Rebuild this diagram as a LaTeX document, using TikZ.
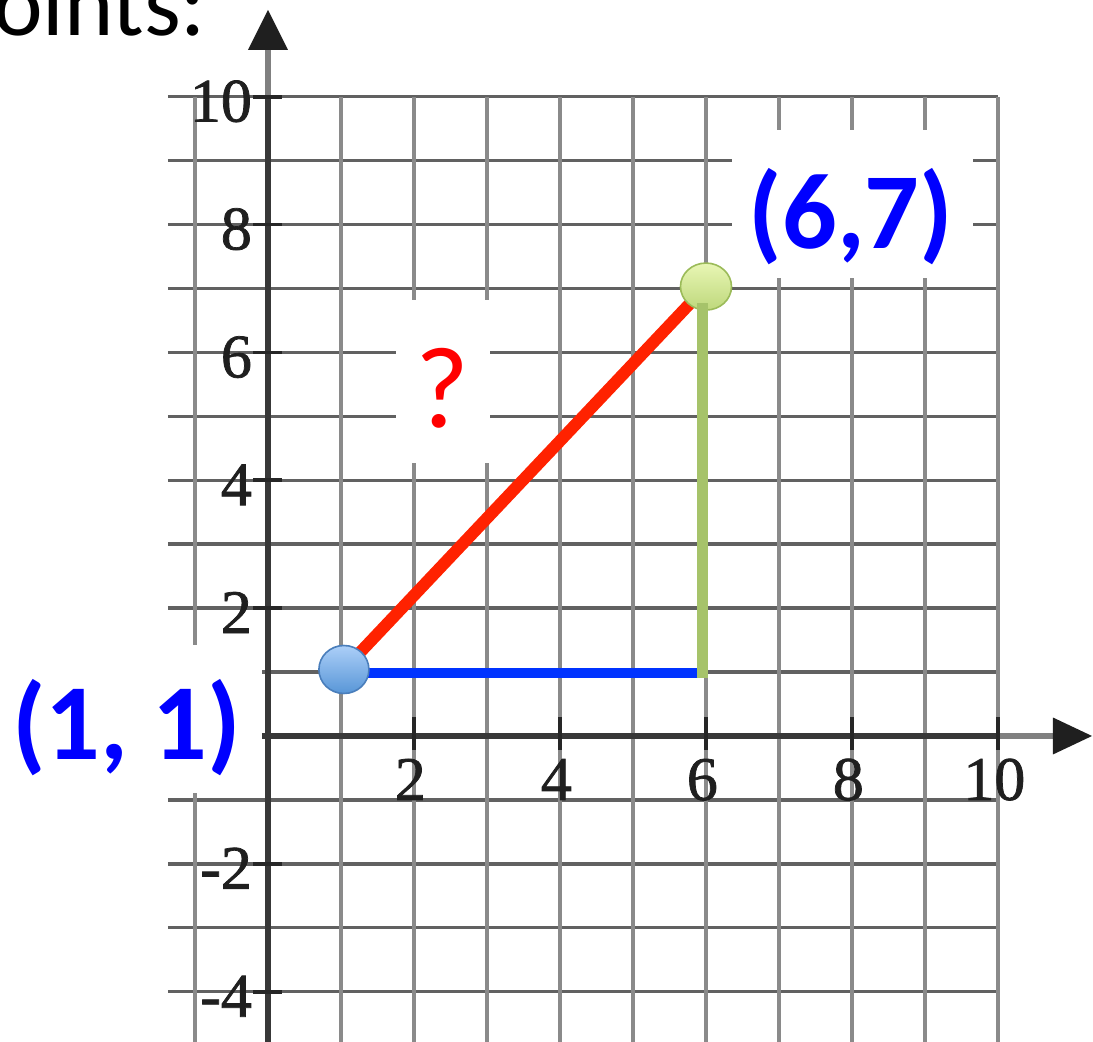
\documentclass[tikz,border=0pt]{standalone}
\usepackage{fontspec}
\setmainfont{Liberation Serif}
\newfontfamily\calib{Carlito}
\newfontfamily\tickfont[FakeBold=1.2]{Liberation Serif}
\usetikzlibrary{shapes.geometric}
\definecolor{redline}{RGB}{255,34,0}
\definecolor{blueline}{RGB}{0,51,255}
\definecolor{greenline}{RGB}{166,195,106}
\definecolor{labelblue}{RGB}{0,0,255}
\definecolor{qred}{RGB}{255,0,0}
\definecolor{bluetop}{RGB}{172,207,248}
\definecolor{bluebot}{RGB}{88,150,215}
\definecolor{blueedge}{RGB}{74,126,187}
\definecolor{greentop}{RGB}{232,246,180}
\definecolor{greenbot}{RGB}{190,216,124}
\definecolor{greenedge}{RGB}{155,187,89}
\begin{document}
\begin{tikzpicture}[x=36.5pt,y=31.965pt,
  hgrid/.style={line width=1.7pt, draw=black!62},
  vgrid/.style={line width=2.4pt, draw=black!46},
  axislight/.style={line width=2.8pt, draw=black!50},
  axisdark/.style={line width=3.2pt, draw=black!78},
  tickmark/.style={line width=1.9pt, draw=black!85},
  arrowfill/.style={fill=black!88},
  ticklabel/.style={inner sep=0pt, font=\tickfont\fontsize{31}{31}\selectfont, text=black!88},
  ptlabel/.style={inner sep=0pt, font=\calib\bfseries\fontsize{54}{54}\selectfont, text=labelblue},
  qlabel/.style={inner sep=0pt, font=\calib\fontsize{58}{58}\selectfont, text=qred},
  toptext/.style={inner sep=0pt, font=\calib\fontsize{47}{47}\selectfont, text=black},
  whitebox/.style={fill=white},
  redseg/.style={line width=6pt, draw=redline},
  blueseg/.style={line width=5pt, draw=blueline},
  greenseg/.style={line width=5.5pt, draw=greenline},
  bluedot/.style={ellipse, inner sep=0pt, minimum width=25pt, minimum height=24pt,
     top color=bluetop, bottom color=bluebot, draw=blueedge, line width=0.8pt},
  greendot/.style={ellipse, inner sep=0pt, minimum width=25.5pt, minimum height=23.5pt,
     top color=greentop, bottom color=greenbot, draw=greenedge, line width=0.8pt}
]
\useasboundingbox (-3.6712,-4.7865) rectangle (11.3014,11.5126);
% grid
\foreach \y in {-4,-3,-2,-1,1,2,3,4,5,6,7,8,9,10}
  \draw[hgrid] (-1.37,\y) -- (10,\y);
\foreach \x in {-1,1,2,3,4,5,6,7,8,9,10}
  \draw[vgrid] (\x,-4.8) -- (\x,10);
% axes
\draw[axislight] (0,-4.8) -- (0,10.75);
\draw[axisdark] (0,-4.8) -- (0,10);
\draw[axislight] (-1.37,0) -- (10.76,0);
\draw[axisdark] (-1.37,0) -- (10,0);
\fill[arrowfill] (0,11.356) -- (0.274,10.731) -- (-0.274,10.731) -- cycle;
\fill[arrowfill] (11.288,0) -- (10.753,0.289) -- (10.753,-0.289) -- cycle;
% ticks
\foreach \y in {-4,-2,2,4,6,8,10}
  \draw[tickmark] (-0.205,\y) -- (0.192,\y);
\foreach \x in {2,4,6,8,10}
  \draw[tickmark] (\x,0.297) -- (\x,-0.219);
% tick labels
\foreach \y in {-4,-2,2,4,6,8,10}
  \node[ticklabel, anchor=base east] (yl\y) at (-0.215,{\y-0.39}) {\y};
\foreach \x in {2,4,6,8,10}
  \node[ticklabel, anchor=base] (xl\x) at ({\x-0.05},-1.0) {\x};
% white label boxes
\fill[whitebox] (-3.68,1.423) rectangle (-0.082,-0.892);
\fill[whitebox] (6.356,9.479) rectangle (9.658,7.164);
\fill[whitebox] (1.753,6.820) rectangle (3.041,4.270);
% labels
\node[ptlabel, anchor=base] (lA) at (-1.938,-0.375) {(1, 1)};
\node[ptlabel, anchor=base] (lB) at (7.986,7.633) {(6,7)};
\node[qlabel, anchor=base] (q) at (2.390,4.818) {?};
\node[toptext, anchor=base east] (pts) at (-0.84,10.950) {points:};
% triangle
\coordinate (pA) at (1.04,1.04);
\coordinate (pB) at (6,7.03);
\coordinate (C) at (5.95,0.985);
\draw[redseg] (pA) -- (pB);
\draw[blueseg] (pA |- C) -- (C);
\node[bluedot] (A) at (pA) {};
\node[greendot] (B) at (pB) {};
\draw[greenseg] ([yshift=-2.5pt]C) -- ([yshift=-8pt]C |- B.center);
\end{tikzpicture}
\end{document}
